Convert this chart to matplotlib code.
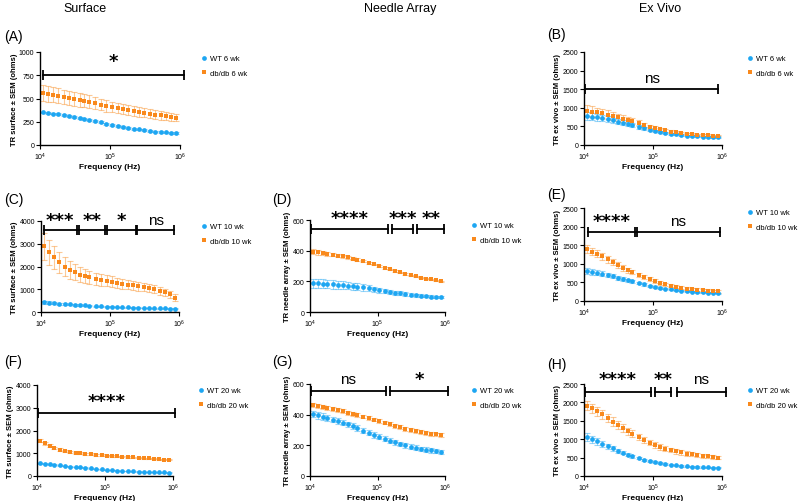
import numpy as np
import matplotlib
matplotlib.use("Agg")
import matplotlib.pyplot as plt

plt.rcParams['font.family'] = ['Liberation Sans', 'DejaVu Sans']

BLUE = '#1da6f2'
ORANGE = '#f9891c'

# frequencies (Hz)
freq = [11000, 13000, 15500, 18000, 22000, 26000, 31000, 37000, 43000, 50000,
        62000, 74000, 89000, 106000, 128000, 151000, 180000, 218000, 258000,
        311000, 372000, 440000, 531000, 627000, 741000, 875000]

# (A) surface 6 wk
a_wt = [350, 345, 338, 330, 318, 308, 298, 290, 280, 272, 255, 243, 228, 215,
        205, 195, 185, 175, 167, 160, 152, 145, 140, 135, 130, 125]
a_db = [555, 548, 540, 530, 515, 505, 495, 485, 475, 465, 450, 435, 420, 408,
        395, 385, 375, 365, 355, 345, 335, 325, 318, 310, 303, 295]
a_wt_sem = [10] * 26
a_db_sem = [85, 84, 82, 80, 78, 76, 74, 72, 70, 68, 65, 62, 60, 58, 56, 54, 52,
            50, 49, 48, 47, 46, 45, 44, 43, 42]

# (B) ex vivo 6 wk
b_wt = [785, 765, 745, 720, 690, 660, 630, 600, 570, 540, 490, 450, 410, 380,
        350, 325, 300, 285, 270, 255, 245, 235, 225, 218, 210, 205]
b_db = [920, 900, 875, 850, 815, 780, 745, 710, 675, 640, 590, 540, 495, 455,
        420, 390, 360, 340, 320, 305, 290, 280, 270, 262, 255, 250]
b_wt_sem = [100, 95, 90, 85, 80, 75, 70, 65, 60, 55, 50, 45, 40, 36, 33, 30,
            28, 26, 24, 22, 21, 20, 19, 18, 17, 16]
b_db_sem = [150, 140, 130, 122, 115, 108, 100, 92, 85, 78, 70, 62, 55, 50, 45,
            40, 36, 33, 30, 28, 26, 24, 22, 21, 20, 20]

# (C) surface 10 wk
c_wt = [430, 410, 390, 370, 350, 330, 310, 300, 290, 280, 260, 250, 240, 230,
        220, 210, 200, 195, 185, 175, 170, 165, 160, 155, 150, 145]
c_db = [2880, 2620, 2400, 2180, 1990, 1860, 1745, 1630, 1570, 1530, 1455, 1410,
        1370, 1340, 1295, 1240, 1190, 1165, 1135, 1090, 1050, 990, 930, 860,
        785, 625]
c_wt_sem = [60, 55, 50, 45, 40, 38, 35, 33, 30, 28, 25, 24, 22, 21, 20, 19, 18,
            17, 16, 15, 15, 14, 14, 13, 13, 12]
c_db_sem = [580, 540, 500, 460, 420, 390, 360, 330, 310, 290, 270, 255, 240,
            230, 220, 210, 200, 195, 190, 185, 180, 175, 170, 165, 160, 150]

# (D) needle array 10 wk
d_wt = [188, 186, 184, 182, 180, 178, 175, 172, 168, 165, 160, 155, 148, 143,
        137, 132, 127, 122, 118, 114, 110, 107, 104, 101, 99, 97]
d_db = [394, 390, 385, 380, 374, 368, 362, 356, 348, 342, 330, 320, 310, 300,
        288, 278, 268, 258, 248, 240, 232, 225, 218, 212, 206, 200]
d_wt_sem = [30, 30, 29, 28, 27, 26, 25, 24, 23, 22, 20, 19, 17, 16, 15, 14, 13,
            12, 11, 10, 10, 9, 9, 8, 8, 8]
d_db_sem = [16, 15, 14, 13, 12, 11, 10, 9, 8, 8, 7, 6, 6, 5, 5, 5, 4, 4, 4, 4,
            4, 4, 4, 4, 4, 4]

# (E) ex vivo 10 wk
e_wt = [810, 785, 760, 730, 695, 660, 625, 590, 555, 525, 480, 445, 410, 380,
        355, 330, 310, 290, 275, 260, 250, 240, 232, 225, 218, 212]
e_db = [1395, 1330, 1270, 1200, 1120, 1040, 960, 890, 830, 780, 700, 640, 580,
        530, 485, 445, 410, 380, 355, 335, 315, 300, 288, 278, 268, 260]
e_wt_sem = [80, 75, 70, 65, 60, 55, 50, 45, 40, 36, 32, 29, 26, 24, 22, 20, 18,
            17, 16, 15, 14, 13, 12, 12, 11, 11]
e_db_sem = [110, 105, 100, 95, 90, 85, 80, 75, 70, 65, 60, 56, 52, 50, 48, 46,
            44, 43, 42, 41, 40, 40, 40, 40, 40, 40]

# (F) surface 20 wk
f_wt = [560, 545, 520, 495, 465, 440, 415, 395, 375, 360, 335, 310, 290, 270,
        255, 240, 225, 210, 200, 190, 180, 170, 165, 160, 155, 150]
f_db = [1560, 1430, 1330, 1240, 1160, 1100, 1050, 1020, 1000, 980, 960, 935,
        915, 895, 875, 860, 845, 830, 815, 800, 785, 770, 755, 740, 725, 715]
f_wt_sem = [30, 28, 26, 24, 22, 20, 19, 18, 17, 16, 15, 14, 13, 12, 12, 11, 11,
            10, 10, 10, 9, 9, 9, 9, 9, 9]
f_db_sem = [70, 65, 60, 55, 50, 45, 42, 40, 38, 36, 35, 34, 33, 32, 31, 30, 30,
            29, 29, 28, 28, 28, 28, 28, 28, 28]

# (G) needle array 20 wk
g_wt = [405, 395, 388, 378, 368, 358, 348, 337, 326, 314, 296, 283, 268, 256,
        243, 231, 220, 210, 200, 192, 185, 178, 172, 167, 162, 157]
g_db = [463, 458, 452, 446, 438, 430, 422, 414, 406, 400, 388, 378, 368, 358,
        348, 338, 328, 318, 308, 300, 292, 286, 280, 275, 271, 266]
g_wt_sem = [20, 20, 20, 19, 19, 19, 18, 18, 18, 18, 17, 17, 17, 16, 16, 16, 15,
            15, 15, 15, 14, 14, 14, 14, 14, 14]
g_db_sem = [14, 14, 14, 13, 13, 13, 13, 13, 12, 12, 12, 12, 12, 12, 12, 12, 12,
            12, 12, 12, 12, 12, 12, 12, 12, 12]

# (H) ex vivo 20 wk
h_wt = [1055, 1000, 945, 880, 810, 750, 690, 635, 580, 540, 490, 445, 410, 380,
        355, 330, 310, 290, 275, 265, 255, 245, 240, 235, 230, 225]
h_db = [1915, 1840, 1760, 1680, 1580, 1480, 1390, 1300, 1210, 1150, 1060, 980,
        910, 850, 790, 745, 705, 670, 640, 610, 585, 565, 545, 530, 515, 500]
h_wt_sem = [100, 95, 90, 80, 70, 62, 55, 48, 42, 38, 34, 30, 27, 25, 23, 21,
            20, 19, 18, 17, 16, 16, 15, 15, 15, 15]
h_db_sem = [130, 128, 125, 122, 118, 114, 110, 105, 100, 95, 90, 85, 80, 76,
            72, 68, 64, 60, 58, 56, 54, 52, 52, 50, 50, 50]

# significance brackets: (x start, x end, text)
a_sig = [(11200, 1.15e6, '*')]
b_sig = [(10500, 8.8e5, 'ns')]
c_sig = [(10900, 3.3e4, '***'), (3.55e4, 8.6e4, '**'), (9.1e4, 2.35e5, '*'),
         (2.5e5, 8.5e5, 'ns')]
d_sig = [(10300, 1.45e5, '****'), (1.65e5, 3.4e5, '***'), (3.9e5, 9.8e5, '**')]
e_sig = [(11400, 5.4e4, '****'), (5.9e4, 9.3e5, 'ns')]
f_sig = [(10350, 1.07e6, '****')]
g_sig = [(10300, 1.32e5, 'ns'), (1.53e5, 1.1e6, '*')]
h_sig = [(10300, 9.2e4, '****'), (1.07e5, 1.85e5, '**'), (2.2e5, 1.15e6, 'ns')]

W, H = 800, 502


def rect(l, r, t, b):
    return [l / W, 1 - b / H, (r - l) / W, (b - t) / H]


def draw_panel(box, wt, wt_sem, db, db_sem, ymax, ystep, ylabel, week, sig,
               bar_y, txt_y, letter, letter_xy, leg_xy):
    ax = fig.add_axes(rect(*box))
    ax.errorbar(freq, db, yerr=db_sem, fmt='none', ecolor=ORANGE, alpha=0.45,
                elinewidth=0.8, capsize=2, capthick=0.8)
    ax.errorbar(freq, wt, yerr=wt_sem, fmt='none', ecolor=BLUE, alpha=0.45,
                elinewidth=0.8, capsize=2, capthick=0.8)
    ax.plot(freq, wt, 'o', color=BLUE, ms=3.4, mew=0, label=f'WT {week} wk')
    ax.plot(freq, db, 's', color=ORANGE, ms=3.4, mew=0, label=f'db/db {week} wk')
    ax.set_xscale('log')
    ax.set_xlim(1e4, 1e6)
    ax.set_ylim(0, ymax)
    ax.set_yticks(np.arange(0, ymax + 1, ystep))
    ax.xaxis.set_minor_locator(matplotlib.ticker.NullLocator())
    for s in ['top', 'right']:
        ax.spines[s].set_visible(False)
    for s in ['left', 'bottom']:
        ax.spines[s].set_linewidth(1.0)
    ax.tick_params(labelsize=5, length=3, width=0.8, pad=1)
    ax.set_xlabel('Frequency (Hz)', fontsize=6, fontweight='bold', labelpad=0.5)
    ax.set_ylabel(ylabel, fontsize=5.5, fontweight='bold', labelpad=1)

    for x0, x1, t in sig:
        ax.plot([x0, x1], [bar_y, bar_y], '-', color='black', lw=1.3,
                clip_on=False)
        ax.plot([x0, x1], [bar_y, bar_y], '|', color='black', ms=7, mew=1.3,
                clip_on=False)
        xm = np.sqrt(x0 * x1)
        if t == 'ns':
            ax.text(xm, txt_y, t, ha='center', va='center', fontsize=11,
                    clip_on=False)
        else:
            ax.text(xm, txt_y, t, ha='center', va='center', fontsize=13,
                    fontweight='bold', family='DejaVu Sans', clip_on=False)

    fig.text(letter_xy[0] / W, 1 - letter_xy[1] / H, letter, fontsize=10,
             ha='left', va='center')
    ax.legend(loc='upper left', bbox_to_anchor=(leg_xy[0] / W, 1 - leg_xy[1] / H),
              bbox_transform=fig.transFigure, frameon=False, fontsize=5.5,
              handletextpad=0.3, handlelength=1.0, labelspacing=0.9,
              borderaxespad=0, borderpad=0)
    return ax


fig = plt.figure(figsize=(8, 5.02), dpi=100)

fig.text(85 / W, 1 - 9 / H, 'Surface', fontsize=9, ha='center', va='center')
fig.text(400 / W, 1 - 9 / H, 'Needle Array', fontsize=9, ha='center', va='center')
fig.text(660 / W, 1 - 9 / H, 'Ex Vivo', fontsize=9, ha='center', va='center')

draw_panel((40, 180, 53, 146), a_wt, a_wt_sem, a_db, a_db_sem, 1000, 250,
           'TR surface ± SEM (ohms)', 6, a_sig, 750, 900, '(A)', (4, 37),
           (200, 56))
draw_panel((584, 722, 53, 146), b_wt, b_wt_sem, b_db, b_db_sem, 2500, 500,
           'TR ex vivo ± SEM (ohms)', 6, b_sig, 1500, 1800, '(B)', (547, 35),
           (746, 56))
draw_panel((41, 179, 222, 313), c_wt, c_wt_sem, c_db, c_db_sem, 4000, 1000,
           'TR surface ± SEM (ohms)', 10, c_sig, 3600, 4050, '(C)', (4, 200),
           (200, 224))
draw_panel((310, 445, 221, 313), d_wt, d_wt_sem, d_db, d_db_sem, 600, 200,
           'TR needle array ± SEM (ohms)', 10, d_sig, 540, 615, '(D)', (272, 200),
           (470, 223))
draw_panel((584, 722, 209, 302), e_wt, e_wt_sem, e_db, e_db_sem, 2500, 500,
           'TR ex vivo ± SEM (ohms)', 10, e_sig, 1850, 2150, '(E)', (547, 195),
           (746, 210))
draw_panel((37, 173, 386, 477), f_wt, f_wt_sem, f_db, f_db_sem, 4000, 1000,
           'TR surface ± SEM (ohms)', 20, f_sig, 2760, 3300, '(F)', (4, 362),
           (197, 388))
draw_panel((310, 445, 385, 477), g_wt, g_wt_sem, g_db, g_db_sem, 600, 200,
           'TR needle array ± SEM (ohms)', 20, g_sig, 555, 635, '(G)', (272, 362),
           (470, 388))
draw_panel((584, 722, 385, 477), h_wt, h_wt_sem, h_db, h_db_sem, 2500, 500,
           'TR ex vivo ± SEM (ohms)', 20, h_sig, 2280, 2640, '(H)', (547, 365),
           (746, 388))

fig.savefig('out.png', dpi=100)
